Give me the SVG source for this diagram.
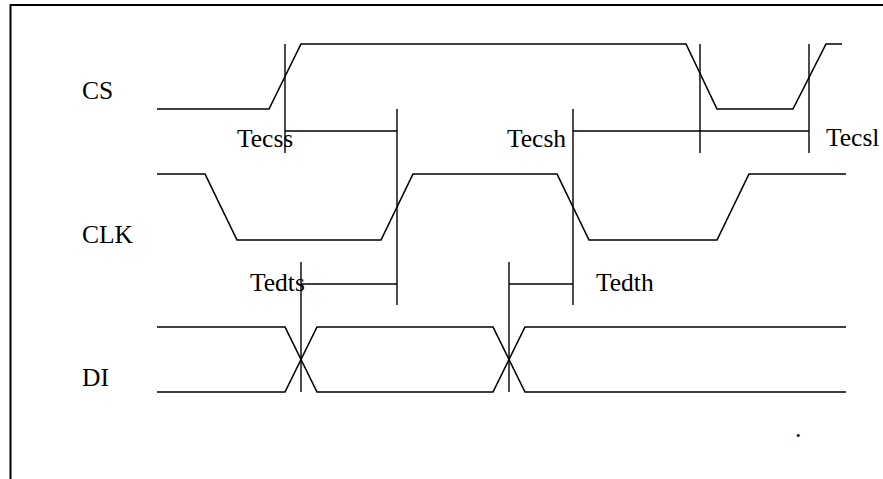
<svg xmlns="http://www.w3.org/2000/svg" width="883" height="479" viewBox="0 0 883 479">
<style>
.sig{fill:none;stroke:#000;stroke-width:1.6;stroke-linejoin:miter}
.mk{fill:none;stroke:#000;stroke-width:1.4}
.frame{fill:none;stroke:#000;stroke-width:2}
text{font-family:"Liberation Serif","Times New Roman",serif;font-size:25.5px;fill:#000}
</style>
<rect width="883" height="479" fill="#fff"/>
<g id="frame">
<path class="frame" d="M883,5 H10.5 V479"/>
</g>
<g id="CS">
<text x="82" y="99">CS</text>
<path class="sig" d="M157,109 H269 L301,44 H686 L717,109 H793 L826,44 H842"/>
</g>
<g id="CLK">
<text x="82" y="243">CLK</text>
<path class="sig" d="M157,174 H205 L237,240 H381 L413,174 H557 L589,240 H717 L749,174 H846"/>
</g>
<g id="DI">
<text x="82" y="386">DI</text>
<path class="sig" d="M157,327 H285 L317,392 H493 L525,327 H846"/>
<path class="sig" d="M157,392 H285 L317,327 H493 L525,392 H846"/>
</g>
<g id="connectors">
<path class="mk" d="M285,44 V153 M285,131 H397 M397,109 V305"/>
<path class="mk" d="M573,109 V305 M573,131 H809 M700,44 V153 M809,44 V153"/>
<path class="mk" d="M301,262 V392 M301,284 H397"/>
<path class="mk" d="M509,262 V392 M509,284 H573"/>
</g>
<g id="labels">
<text x="237" y="147">Tecss</text>
<text x="507" y="147">Tecsh</text>
<text x="826" y="146">Tecsl</text>
<text x="250" y="291">Tedts</text>
<text x="596" y="291">Tedth</text>
<text x="795" y="437">.</text>
</g>
</svg>
